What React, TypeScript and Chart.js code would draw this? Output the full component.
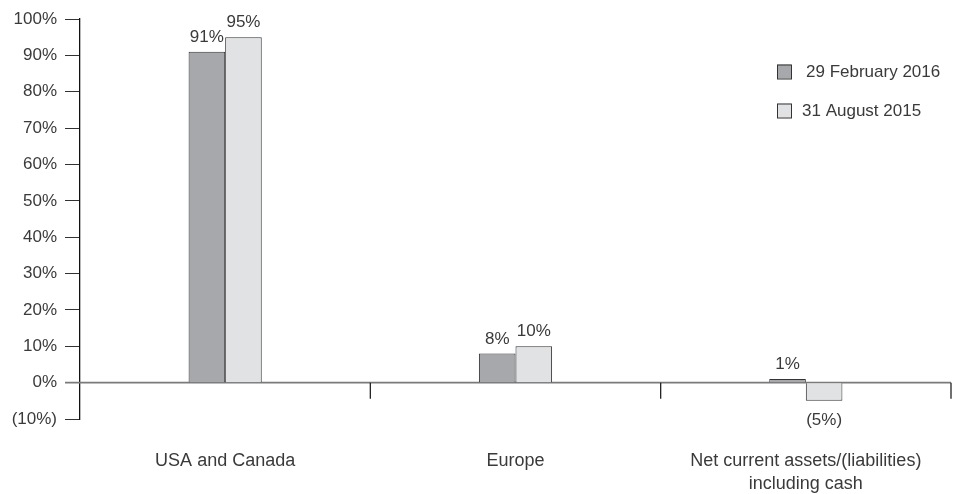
import { useEffect, useRef } from 'react';
import { Chart, registerables } from 'chart.js';

Chart.register(...registerables);

const categories: (string | string[])[] = [
  'USA and Canada',
  'Europe',
  ['Net current assets/(liabilities)', 'including cash'],
];
const seriesLabels = ['29 February 2016', '31 August 2015'];
const feb2016 = [91, 8, 1];
const aug2015 = [95, 10, -5];
const yMin = -10;
const yMax = 100;
const yStep = 10;

const FONT = "'Liberation Sans', Arial, Helvetica, sans-serif";
const TEXT = '#3a3a3a';
const DARK = '#a7a8ab';
const LIGHT = '#e1e2e3';

const fmt = (v: number) => (v < 0 ? `(${-v}%)` : `${v}%`);

const decor = {
  id: 'decor',
  beforeDatasetsDraw(chart: any) {
    const { ctx, chartArea, scales } = chart;
    const x = scales.x;
    const y = scales.y;
    const y0 = y.getPixelForValue(0);
    ctx.save();
    ctx.strokeStyle = '#7a7a7a';
    ctx.lineWidth = 1.6;
    ctx.beginPath();
    ctx.moveTo(chartArea.left - 15, y0);
    ctx.lineTo(chartArea.right, y0);
    ctx.stroke();
    ctx.strokeStyle = '#222';
    ctx.lineWidth = 1.3;
    const n = categories.length;
    for (let i = 0; i < n; i++) {
      const xr = i < n - 1 ? (x.getPixelForValue(i) + x.getPixelForValue(i + 1)) / 2 : chartArea.right;
      ctx.beginPath();
      ctx.moveTo(xr, y0);
      ctx.lineTo(xr, y0 + 16);
      ctx.stroke();
    }
    ctx.restore();
  },
  afterDatasetsDraw(chart: any) {
    const { ctx } = chart;
    ctx.save();
    ctx.font = `17px ${FONT}`;
    ctx.fillStyle = TEXT;
    ctx.textAlign = 'center';
    chart.data.datasets.forEach((ds: any, di: number) => {
      const meta = chart.getDatasetMeta(di);
      meta.data.forEach((el: any, i: number) => {
        const v = ds.data[i];
        if (v >= 0) {
          ctx.textBaseline = 'alphabetic';
          ctx.fillText(fmt(v), el.x, el.y - 10);
        } else {
          ctx.textBaseline = 'middle';
          ctx.fillText(fmt(v), el.x, el.y + 19);
        }
      });
    });
    ctx.restore();
  },
  afterDraw(chart: any) {
    const { ctx, chartArea } = chart;
    ctx.save();
    ctx.font = `17px ${FONT}`;
    ctx.textBaseline = 'middle';
    ctx.textAlign = 'left';
    const bx = chartArea.right - 174;
    const rows = [71.5, 110.5];
    chart.data.datasets.forEach((ds: any, i: number) => {
      const cy = rows[i];
      ctx.fillStyle = ds.backgroundColor;
      ctx.fillRect(bx, cy - 7, 14, 14);
      ctx.strokeStyle = '#333';
      ctx.lineWidth = 1;
      ctx.strokeRect(bx + 0.5, cy - 6.5, 14, 14);
      ctx.fillStyle = TEXT;
      ctx.fillText(ds.label, bx + (i === 0 ? 29 : 25), cy + 1);
    });
    ctx.restore();
  },
};

export default function App() {
  const ref = useRef<HTMLCanvasElement>(null);
  useEffect(() => {
    document.body.style.margin = '0';
    const chart = new Chart(ref.current!, {
      type: 'bar',
      data: {
        labels: categories as any,
        datasets: [
          {
            label: seriesLabels[0],
            data: feb2016,
            backgroundColor: DARK,
            borderColor: '#333',
            borderWidth: 1,
            barPercentage: 1,
            categoryPercentage: 0.252,
          },
          {
            label: seriesLabels[1],
            data: aug2015,
            backgroundColor: LIGHT,
            borderColor: '#333',
            borderWidth: 1,
            barPercentage: 1,
            categoryPercentage: 0.252,
          },
        ],
      },
      options: {
        responsive: false,
        animation: false,
        layout: { padding: { top: 19, right: 4, bottom: 0, left: 0 } },
        plugins: { legend: { display: false }, tooltip: { enabled: false } },
        scales: {
          x: {
            grid: { display: false, drawTicks: false },
            border: { display: false },
            ticks: {
              color: TEXT,
              font: { family: FONT, size: 18, lineHeight: 1.3 },
              padding: 30,
              maxRotation: 0,
              autoSkip: false,
            },
            afterFit: (s: any) => {
              s.height = 75;
            },
          },
          y: {
            min: yMin,
            max: yMax,
            ticks: {
              stepSize: yStep,
              color: TEXT,
              font: { family: FONT, size: 17 },
              padding: 8,
              callback: (v: any) => fmt(Number(v)),
            },
            grid: {
              display: true,
              drawOnChartArea: false,
              drawTicks: true,
              tickLength: 15,
              color: '#333',
              lineWidth: 1,
            },
            border: { display: true, color: '#111', width: 1.3 },
            afterFit: (s: any) => {
              s.width = 80;
            },
          },
        },
      },
      plugins: [decor],
    });
    return () => chart.destroy();
  }, []);
  return (
    <div style={{ width: 955, height: 494, background: '#fff' }}>
      <canvas ref={ref} width={955} height={494} />
    </div>
  );
}
